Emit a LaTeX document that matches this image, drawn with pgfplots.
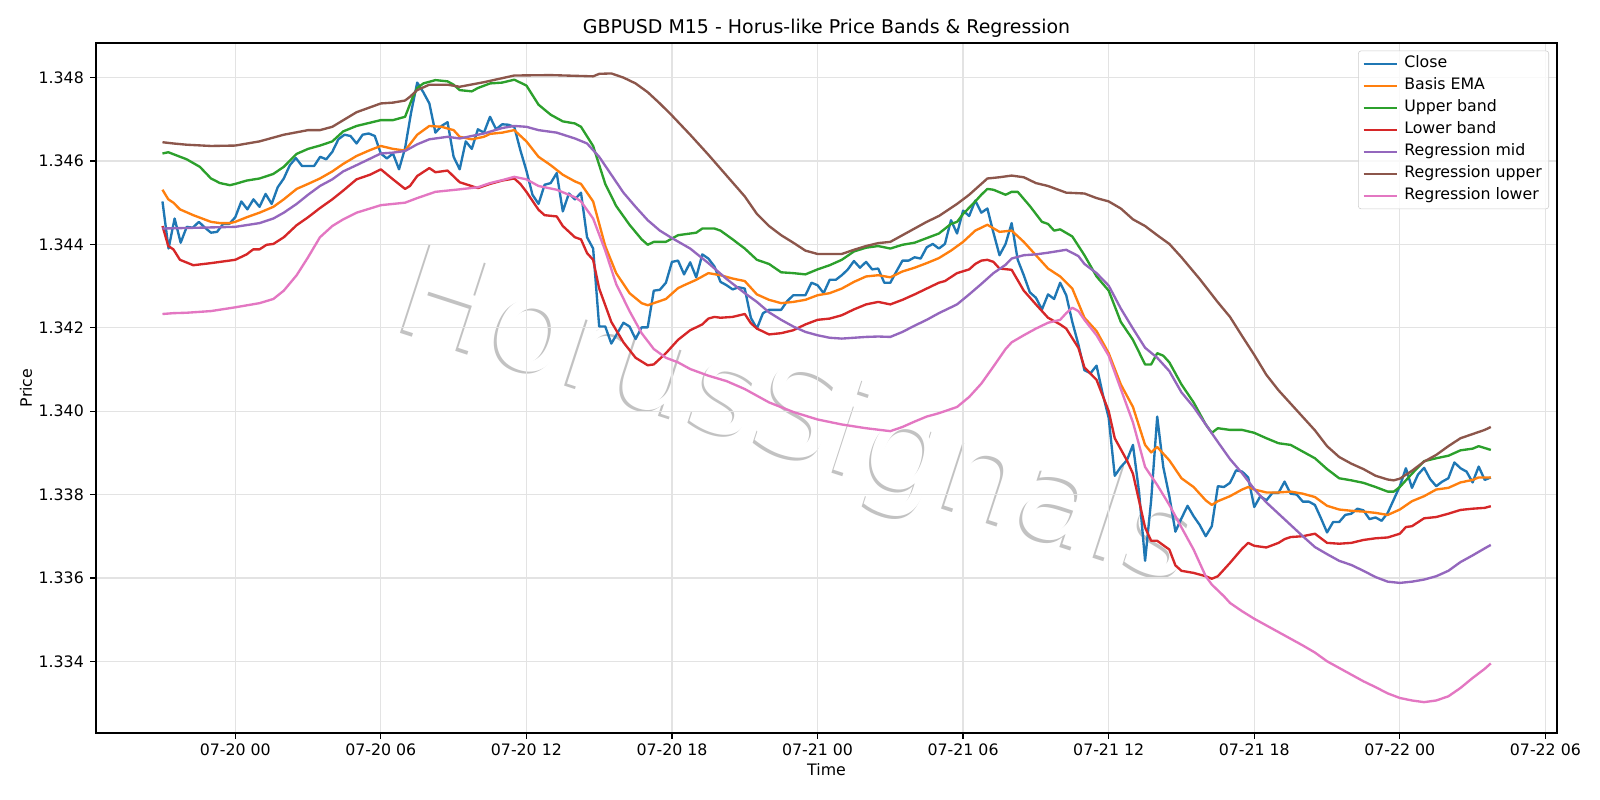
\documentclass[border=0pt]{standalone}
\usepackage{fontspec}
\setmainfont{DejaVu Sans}
\usepackage{pgfplots}
\pgfplotsset{compat=1.18}
\definecolor{c0}{HTML}{1F77B4}
\definecolor{c1}{HTML}{FF7F0E}
\definecolor{c2}{HTML}{2CA02C}
\definecolor{c3}{HTML}{D62728}
\definecolor{c4}{HTML}{9467BD}
\definecolor{c5}{HTML}{8C564B}
\definecolor{c6}{HTML}{E377C2}
\begin{document}
\begin{tikzpicture}
% watermark (drawn first, behind the axis)
\node[anchor=base, rotate=-18, text=black!24, font=\fontsize{92}{104}\selectfont] at ([xshift=-1.7pt,yshift=-1.7pt]6.90in,2.78in) {HorusSignals};
\node[anchor=base, rotate=-18, text=white, font=\fontsize{92}{104}\selectfont] at (6.90in,2.78in) {HorusSignals};
\begin{axis}[
  at={(0,0)}, anchor=south west,
  scale only axis, width=14.61in, height=6.90in,
  xmin=-5.74, xmax=54.48, ymin=1.33228, ymax=1.34883,
  font=\fontsize{11.4}{13.7}\selectfont,
  axis line style={line width=0.9pt, black},
  tick align=outside, xtick pos=bottom, ytick pos=left,
  major tick length=4pt,
  every tick/.style={black, line width=0.9pt},
  xtick={0,6,12,18,24,30,36,42,48,54},
  xticklabels={07-20 00,07-20 06,07-20 12,07-20 18,07-21 00,07-21 06,07-21 12,07-21 18,07-22 00,07-22 06},
  ytick={1.334,1.336,1.338,1.340,1.342,1.344,1.346,1.348},
  scaled y ticks=false,
  yticklabel style={/pgf/number format/fixed, /pgf/number format/fixed zerofill, /pgf/number format/precision=3, /pgf/number format/assume math mode=true, anchor=east, inner sep=0pt, xshift=-4.6pt},
  xticklabel style={anchor=base, yshift=-12.5pt},
  grid=major,
  major grid style={black!11, line width=0.9pt},
  title={GBPUSD M15 - Horus-like Price Bands \& Regression},
  title style={at={(0.5,1)}, anchor=base, yshift=1.0pt, font=\fontsize{13.7}{16}\selectfont},
  xlabel={Time},
  xlabel style={at={(0.5,0)}, anchor=base, yshift=-31pt},
  ylabel={Price},
  ylabel style={at={([xshift=-46.3pt]axis description cs:0,0.5)}, anchor=base},
  legend style={at={(1,1)}, anchor=north east, xshift=-5.8pt, yshift=-5.5pt,
    draw=black!20, fill=white, fill opacity=0.8, text opacity=1, rounded corners=2pt,
    font=\fontsize{11.4}{13.7}\selectfont, row sep=3.1pt, column sep=2.5pt, inner xsep=3pt, inner ysep=3pt,
    nodes={inner ysep=1pt, text height=8.3pt, text depth=2.5pt}},
  legend cell align=left,
  legend image code/.code={\draw[#1, line width=1.7pt] (0pt,0pt) -- (24pt,0pt);},
  every axis plot/.append style={line width=1.7pt, line join=round, mark=none},
]
\addplot[c0] table {
x y
-3 1.34503
-2.75 1.34390
-2.5 1.34462
-2.25 1.34404
-2 1.34442
-1.75 1.34440
-1.5 1.34454
-1.25 1.34440
-1 1.34428
-0.75 1.34430
-0.5 1.34449
-0.25 1.34449
0 1.34465
0.25 1.34503
0.5 1.34484
0.75 1.34508
1 1.34490
1.25 1.34521
1.5 1.34497
1.75 1.34537
2 1.34558
2.25 1.34590
2.5 1.34607
2.75 1.34588
3 1.34588
3.25 1.34588
3.5 1.34610
3.75 1.34604
4 1.34622
4.25 1.34652
4.5 1.34663
4.75 1.34660
5 1.34642
5.25 1.34663
5.5 1.34666
5.75 1.34660
6 1.34618
6.25 1.34606
6.5 1.34618
6.75 1.34580
7 1.34631
7.25 1.34717
7.5 1.34788
7.75 1.34765
8 1.34738
8.25 1.34668
8.5 1.34684
8.75 1.34693
9 1.34610
9.25 1.34580
9.5 1.34647
9.75 1.34629
10 1.34676
10.25 1.34668
10.5 1.34706
10.75 1.34676
11 1.34688
11.25 1.34687
11.5 1.34682
11.75 1.34626
12 1.34577
12.25 1.34519
12.5 1.34497
12.75 1.34543
13 1.34547
13.25 1.34571
13.5 1.34479
13.75 1.34522
14 1.34508
14.25 1.34524
14.5 1.34417
14.75 1.34390
15 1.34203
15.25 1.34203
15.5 1.34162
15.75 1.34187
16 1.34212
16.25 1.34203
16.5 1.34173
16.75 1.34201
17 1.34201
17.25 1.34289
17.5 1.34291
17.75 1.34308
18 1.34358
18.25 1.34361
18.5 1.34328
18.75 1.34357
19 1.34321
19.25 1.34376
19.5 1.34366
19.75 1.34347
20 1.34310
20.25 1.34302
20.5 1.34292
20.75 1.34297
21 1.34294
21.25 1.34224
21.5 1.34198
21.75 1.34235
22 1.34243
22.25 1.34243
22.5 1.34243
22.75 1.34264
23 1.34278
23.25 1.34278
23.5 1.34278
23.75 1.34308
24 1.34302
24.25 1.34283
24.5 1.34315
24.75 1.34315
25 1.34326
25.25 1.34340
25.5 1.34360
25.75 1.34344
26 1.34358
26.25 1.34340
26.5 1.34342
26.75 1.34308
27 1.34308
27.25 1.34335
27.5 1.34361
27.75 1.34361
28 1.34369
28.25 1.34366
28.5 1.34393
28.75 1.34401
29 1.34390
29.25 1.34401
29.5 1.34458
29.75 1.34426
30 1.34481
30.25 1.34468
30.5 1.34505
30.75 1.34476
31 1.34486
31.25 1.34428
31.5 1.34374
31.75 1.34401
32 1.34451
32.25 1.34363
32.5 1.34326
32.75 1.34285
33 1.34272
33.25 1.34244
33.5 1.34280
33.75 1.34269
34 1.34308
34.25 1.34278
34.5 1.34214
34.75 1.34160
35 1.34098
35.25 1.34091
35.5 1.34109
35.75 1.34042
36 1.33984
36.25 1.33845
36.5 1.33866
36.75 1.33882
37 1.33919
37.25 1.33807
37.5 1.33641
37.75 1.33786
38 1.33987
38.25 1.33866
38.5 1.33796
38.75 1.33711
39 1.33743
39.25 1.33773
39.5 1.33748
39.75 1.33727
40 1.33700
40.25 1.33724
40.5 1.33820
40.75 1.33818
41 1.33828
41.25 1.33858
41.5 1.33855
41.75 1.33841
42 1.33770
42.25 1.33796
42.5 1.33786
42.75 1.33804
43 1.33804
43.25 1.33831
43.5 1.33802
43.75 1.33800
44 1.33783
44.25 1.33783
44.5 1.33775
44.75 1.33743
45 1.33709
45.25 1.33734
45.5 1.33734
45.75 1.33751
46 1.33754
46.25 1.33766
46.5 1.33762
46.75 1.33741
47 1.33745
47.25 1.33737
47.5 1.33756
47.75 1.33788
48 1.33820
48.25 1.33863
48.5 1.33816
48.75 1.33848
49 1.33864
49.25 1.33837
49.5 1.33820
49.75 1.33831
50 1.33839
50.25 1.33877
50.5 1.33863
50.75 1.33855
51 1.33829
51.25 1.33867
51.5 1.33835
51.75 1.33841
};
\addlegendentry{Close}
\addplot[c1] table {
x y
-3 1.34531
-2.76 1.34508
-2.55 1.34500
-2.28 1.34484
-1.73 1.34470
-1 1.34454
-0.63 1.34451
-0.22 1.34451
0 1.34454
0.47 1.34465
1 1.34476
1.57 1.34490
2 1.34508
2.53 1.34533
3 1.34545
3.49 1.34558
4 1.34575
4.45 1.34593
5 1.34612
5.55 1.34626
6 1.34636
6.5 1.34629
7 1.34625
7.5 1.34663
8 1.34684
8.5 1.34682
9 1.34674
9.25 1.34658
9.75 1.34652
10.25 1.34658
10.5 1.34665
11 1.34668
11.5 1.34674
12 1.34647
12.5 1.34610
13 1.34590
13.5 1.34567
14 1.34551
14.25 1.34545
14.75 1.34503
15.25 1.34396
15.7 1.34331
16.25 1.34283
16.75 1.34259
17 1.34254
17.25 1.34259
17.75 1.34269
18.25 1.34295
18.5 1.34302
19 1.34315
19.5 1.34331
20 1.34326
20.5 1.34318
21 1.34312
21.5 1.34280
22 1.34267
22.5 1.34259
23 1.34262
23.5 1.34267
24 1.34278
24.5 1.34283
25 1.34294
25.5 1.34310
26 1.34323
26.5 1.34326
27 1.34321
27.5 1.34335
28 1.34344
28.5 1.34355
29 1.34367
29.5 1.34385
30 1.34406
30.5 1.34433
31 1.34447
31.5 1.34430
32 1.34433
32.5 1.34406
33 1.34374
33.5 1.34342
34 1.34323
34.5 1.34294
35 1.34224
35.5 1.34192
36 1.34139
36.5 1.34064
37 1.34010
37.5 1.33919
37.75 1.33901
38 1.33914
38.5 1.33882
39 1.33839
39.5 1.33818
40 1.33786
40.25 1.33775
40.5 1.33784
41 1.33796
41.5 1.33812
41.75 1.33818
42 1.33812
42.5 1.33805
43 1.33805
43.5 1.33807
44 1.33802
44.5 1.33794
45 1.33773
45.5 1.33764
46 1.33761
46.5 1.33759
47 1.33756
47.5 1.33751
48 1.33764
48.5 1.33784
49 1.33796
49.5 1.33812
50 1.33816
50.5 1.33829
51 1.33835
51.25 1.33841
51.75 1.33841
};
\addlegendentry{Basis EMA}
\addplot[c2] table {
x y
-3 1.34618
-2.76 1.34621
-2 1.34604
-1.46 1.34586
-1 1.34558
-0.63 1.34547
-0.22 1.34542
0 1.34545
0.47 1.34553
1 1.34558
1.57 1.34569
2 1.34586
2.53 1.34617
3 1.34629
3.49 1.34637
4 1.34647
4.45 1.34671
5 1.34684
6 1.34698
6.5 1.34698
7 1.34706
7.3 1.34751
7.5 1.34775
7.75 1.34786
8.25 1.34794
8.75 1.34791
9 1.34783
9.25 1.34770
9.75 1.34767
10 1.34775
10.5 1.34786
11 1.34788
11.5 1.34795
12 1.34781
12.5 1.34735
13 1.34711
13.5 1.34695
14 1.34690
14.25 1.34682
14.75 1.34636
15.25 1.34545
15.7 1.34492
16.25 1.34447
16.75 1.34412
17 1.34399
17.25 1.34406
17.75 1.34406
18.25 1.34422
18.75 1.34426
19 1.34428
19.25 1.34438
19.75 1.34438
20 1.34433
20.5 1.34412
21 1.34390
21.5 1.34363
22 1.34353
22.5 1.34333
23 1.34331
23.5 1.34328
24 1.34340
24.5 1.34350
25 1.34363
25.5 1.34383
26 1.34392
26.5 1.34396
27 1.34390
27.5 1.34399
28 1.34404
28.5 1.34415
29 1.34426
29.5 1.34449
29.75 1.34454
30 1.34473
30.5 1.34503
30.75 1.34519
31 1.34533
31.25 1.34531
31.75 1.34519
32 1.34526
32.25 1.34526
32.75 1.34492
33.25 1.34454
33.5 1.34449
33.75 1.34433
34 1.34436
34.5 1.34419
35 1.34374
35.5 1.34323
36 1.34289
36.5 1.34214
37 1.34171
37.5 1.34112
37.75 1.34112
38 1.34139
38.25 1.34133
38.5 1.34117
39 1.34064
39.5 1.34021
40 1.33968
40.25 1.33948
40.5 1.33959
41 1.33955
41.5 1.33955
42 1.33948
42.5 1.33935
43 1.33923
43.5 1.33919
44 1.33903
44.5 1.33887
45 1.33861
45.5 1.33839
46 1.33834
46.5 1.33828
47 1.33818
47.5 1.33807
47.75 1.33807
48 1.33818
48.5 1.33850
49 1.33880
49.5 1.33887
50 1.33893
50.5 1.33906
51 1.33910
51.25 1.33916
51.75 1.33907
};
\addlegendentry{Upper band}
\addplot[c3] table {
x y
-3 1.34444
-2.76 1.34396
-2.55 1.34388
-2.28 1.34363
-1.73 1.34350
-1 1.34355
0 1.34363
0.47 1.34376
0.74 1.34388
1 1.34388
1.29 1.34399
1.57 1.34401
2 1.34417
2.53 1.34446
3 1.34465
3.49 1.34487
4 1.34508
4.45 1.34529
5 1.34556
5.55 1.34567
6 1.34580
6.5 1.34556
7 1.34533
7.2 1.34540
7.5 1.34564
8 1.34583
8.25 1.34573
8.75 1.34577
9.25 1.34549
10 1.34535
10.5 1.34545
11 1.34553
11.5 1.34558
11.75 1.34545
12 1.34526
12.5 1.34483
12.75 1.34470
13.25 1.34467
13.5 1.34444
14 1.34417
14.25 1.34412
14.5 1.34379
14.75 1.34363
15 1.34294
15.5 1.34214
16 1.34165
16.5 1.34128
17 1.34110
17.25 1.34112
17.75 1.34139
18.25 1.34171
18.75 1.34194
19.25 1.34208
19.5 1.34222
19.75 1.34226
20 1.34224
20.5 1.34226
21 1.34233
21.25 1.34211
21.5 1.34198
22 1.34184
22.5 1.34187
23 1.34194
23.5 1.34208
24 1.34219
24.5 1.34222
25 1.34230
25.5 1.34244
26 1.34256
26.5 1.34262
27 1.34256
27.5 1.34267
28 1.34280
28.5 1.34294
29 1.34308
29.25 1.34312
29.75 1.34331
30.25 1.34340
30.5 1.34353
30.75 1.34361
31 1.34363
31.25 1.34358
31.5 1.34342
32 1.34339
32.5 1.34289
33 1.34256
33.5 1.34224
34 1.34208
34.25 1.34198
34.75 1.34152
35 1.34105
35.5 1.34075
36 1.34000
36.25 1.33935
36.75 1.33882
37 1.33850
37.5 1.33721
37.75 1.33689
38 1.33689
38.5 1.33668
38.75 1.33630
39 1.33617
39.5 1.33612
40 1.33604
40.25 1.33598
40.5 1.33604
41 1.33636
41.5 1.33670
41.75 1.33684
42 1.33677
42.5 1.33673
43 1.33684
43.25 1.33693
43.5 1.33698
44 1.33700
44.5 1.33706
45 1.33684
45.5 1.33682
46 1.33684
46.5 1.33691
47 1.33695
47.5 1.33697
48 1.33706
48.25 1.33722
48.5 1.33724
49 1.33743
49.5 1.33746
50 1.33754
50.5 1.33763
51 1.33766
51.5 1.33768
51.75 1.33772
};
\addlegendentry{Lower band}
\addplot[c4] table {
x y
-3 1.34438
0 1.34442
1 1.34451
1.57 1.34462
2 1.34476
2.53 1.34497
3 1.34519
3.49 1.34540
4 1.34556
4.45 1.34575
5 1.34590
6 1.34618
6.5 1.34620
7 1.34624
7.5 1.34640
8 1.34652
8.75 1.34658
9.25 1.34654
10.25 1.34666
11 1.34679
11.5 1.34684
12 1.34682
12.5 1.34674
13.25 1.34668
14 1.34654
14.5 1.34642
15 1.34610
15.5 1.34567
16 1.34524
16.5 1.34490
17 1.34458
17.5 1.34433
18 1.34415
18.75 1.34390
19.5 1.34355
20.25 1.34317
21 1.34283
21.5 1.34262
22 1.34237
22.5 1.34219
23 1.34203
23.5 1.34190
24 1.34182
24.5 1.34176
25 1.34174
25.5 1.34176
26 1.34178
26.5 1.34179
27 1.34178
27.5 1.34190
28 1.34205
28.5 1.34219
29 1.34235
29.75 1.34256
30.25 1.34280
30.75 1.34305
31.25 1.34331
31.75 1.34351
32 1.34366
32.5 1.34374
33 1.34376
33.5 1.34380
34.25 1.34387
34.75 1.34372
35 1.34353
35.5 1.34331
36 1.34301
36.5 1.34246
37 1.34198
37.5 1.34152
38 1.34128
38.5 1.34096
39 1.34045
39.5 1.34010
40 1.33968
40.5 1.33926
41 1.33885
41.5 1.33851
42 1.33813
42.5 1.33781
43 1.33754
43.5 1.33727
44 1.33700
44.5 1.33674
45 1.33657
45.5 1.33641
46 1.33631
46.5 1.33617
47 1.33602
47.5 1.33591
48 1.33588
48.5 1.33591
49 1.33596
49.5 1.33604
50 1.33617
50.5 1.33638
51 1.33654
51.5 1.33671
51.75 1.33679
};
\addlegendentry{Regression mid}
\addplot[c5] table {
x y
-3 1.34645
-2.55 1.34642
-2 1.34639
-1 1.34636
0 1.34637
1 1.34647
2 1.34663
3 1.34674
3.49 1.34674
4 1.34682
5 1.34717
6 1.34738
6.5 1.34740
7 1.34745
7.2 1.34754
7.5 1.34770
8 1.34783
8.75 1.34783
9.25 1.34778
10.25 1.34789
11.5 1.34805
13 1.34806
14.75 1.34803
15 1.34809
15.5 1.34810
16 1.34800
16.5 1.34786
17 1.34765
17.5 1.34738
18 1.34709
18.75 1.34663
19.5 1.34615
20.25 1.34565
21 1.34515
21.5 1.34473
22 1.34444
22.5 1.34422
23 1.34404
23.5 1.34385
24 1.34377
25 1.34377
25.5 1.34387
26 1.34396
26.5 1.34403
27 1.34406
27.5 1.34422
28 1.34438
28.5 1.34454
29 1.34468
29.75 1.34497
30.25 1.34519
30.75 1.34545
31 1.34558
31.5 1.34561
32 1.34565
32.5 1.34561
33 1.34547
33.5 1.34540
34.25 1.34524
35 1.34522
35.5 1.34511
36 1.34503
36.5 1.34486
37 1.34460
37.5 1.34444
38 1.34422
38.5 1.34401
39 1.34369
39.75 1.34317
40.5 1.34261
41 1.34226
41.5 1.34180
42 1.34135
42.5 1.34087
43 1.34050
43.5 1.34018
44 1.33986
44.5 1.33954
45 1.33916
45.5 1.33890
46 1.33874
46.5 1.33861
47 1.33845
47.5 1.33836
47.75 1.33834
48 1.33838
48.5 1.33857
49 1.33879
49.5 1.33895
50 1.33916
50.5 1.33935
51 1.33945
51.5 1.33955
51.75 1.33962
};
\addlegendentry{Regression upper}
\addplot[c6] table {
x y
-3 1.34233
-2.55 1.34235
-2 1.34236
-1 1.34240
0 1.34249
1 1.34259
1.57 1.34269
2 1.34289
2.53 1.34326
3 1.34369
3.49 1.34417
4 1.34444
4.45 1.34460
5 1.34476
6 1.34494
7 1.34500
7.5 1.34511
8.25 1.34526
9.25 1.34532
10 1.34537
10.5 1.34547
11 1.34554
11.5 1.34562
12 1.34556
12.5 1.34540
13.25 1.34531
14 1.34513
14.25 1.34503
14.75 1.34462
15.25 1.34385
15.7 1.34305
16.25 1.34240
16.75 1.34187
17.25 1.34149
17.75 1.34128
18.25 1.34117
18.75 1.34101
19.5 1.34085
20.25 1.34072
21 1.34053
22 1.34021
23 1.33998
24 1.33980
25 1.33968
26 1.33959
27 1.33952
27.5 1.33962
28 1.33975
28.5 1.33987
29 1.33995
29.75 1.34010
30.25 1.34034
30.75 1.34066
31.25 1.34107
31.75 1.34149
32 1.34165
32.5 1.34182
33 1.34198
33.5 1.34212
34 1.34219
34.25 1.34235
34.5 1.34248
34.75 1.34240
35 1.34219
35.5 1.34182
36 1.34133
36.5 1.34053
37 1.33973
37.5 1.33866
38 1.33823
38.5 1.33775
39 1.33721
39.5 1.33668
40 1.33604
40.25 1.33584
40.75 1.33556
41 1.33540
41.5 1.33520
42 1.33502
42.5 1.33486
43 1.33470
43.5 1.33454
44 1.33438
44.5 1.33421
45 1.33400
45.5 1.33384
46 1.33368
46.5 1.33352
47 1.33338
47.5 1.33323
48 1.33312
48.5 1.33306
49 1.33302
49.5 1.33306
50 1.33316
50.5 1.33336
51 1.33360
51.5 1.33382
51.75 1.33395
};
\addlegendentry{Regression lower}
\end{axis}
\pgfresetboundingbox
\useasboundingbox (-0.96in,-0.67in) rectangle (15.04in,7.33in);
\end{tikzpicture}
\end{document}
